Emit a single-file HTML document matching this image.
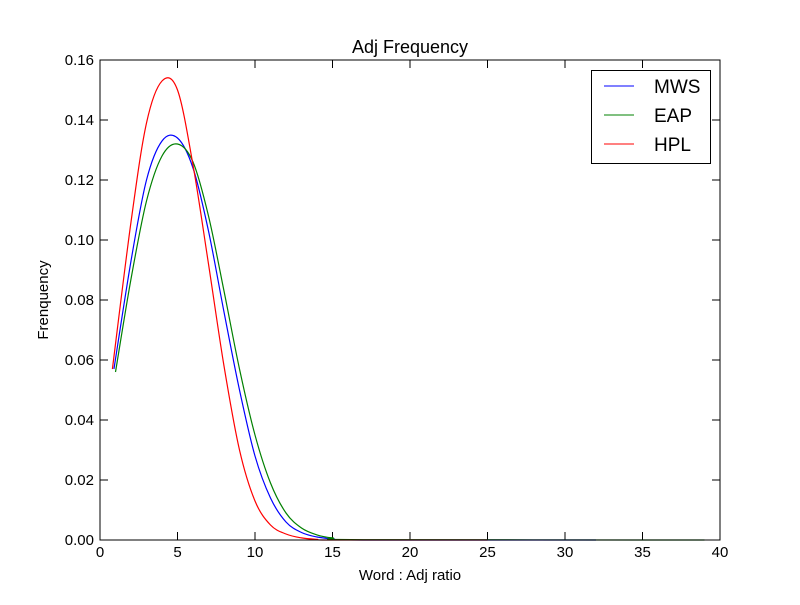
<!DOCTYPE html>
<html><head><meta charset="utf-8"><style>
body{margin:0;background:#fff}
svg text{font-family:"Liberation Sans","DejaVu Sans",sans-serif}
</style></head><body>
<svg id="chart" width="800" height="600" xmlns="http://www.w3.org/2000/svg">
<rect width="800" height="600" fill="#fff"/>
<text x="410" y="53" font-size="18" text-anchor="middle">Adj Frequency</text>
<text x="410" y="580" font-size="15" text-anchor="middle">Word : Adj ratio</text>
<text transform="translate(48,300) rotate(-90)" font-size="15" text-anchor="middle">Frenquency</text>
<g id="ticks"></g>
<g id="series"></g>
<rect x="100" y="60" width="620" height="480" fill="none" stroke="#000" stroke-width="1"/>
<g>
<rect x="591.5" y="70.5" width="119" height="93" fill="#fff" stroke="#000"/>
<line x1="604" y1="86" x2="634" y2="86" stroke="#0000ff"/>
<text x="654" y="93" font-size="19">MWS</text>
<line x1="604" y1="115" x2="634" y2="115" stroke="#008000"/>
<text x="654" y="122" font-size="19">EAP</text>
<line x1="604" y1="144" x2="634" y2="144" stroke="#ff0000"/>
<text x="654" y="151" font-size="19">HPL</text>
</g>
</svg>
<script>
const xTicks=[0,5,10,15,20,25,30,35,40];
const yTicks=[0,0.02,0.04,0.06,0.08,0.10,0.12,0.14,0.16];
const yTickLabels=["0.00","0.02","0.04","0.06","0.08","0.10","0.12","0.14","0.16"];
const mwsX=[0.9,2,3,4,5,6,7,8,9,10,11,12,13,14,15,17,32];
const mwsY=[0.057,0.093,0.120,0.133,0.134,0.124,0.103,0.076,0.050,0.028,0.014,0.006,0.0025,0.001,0.0004,0,0];
const eapX=[1,2,3,4,5,6,7,8,9,10,11,12,13,14,15,17,39];
const eapY=[0.056,0.087,0.113,0.128,0.132,0.126,0.108,0.083,0.057,0.035,0.019,0.009,0.004,0.0017,0.0007,0.0001,0];
const hplX=[0.8,2,3,4,5,6,7,8,9,10,11,12,13,14,15,25];
const hplY=[0.057,0.106,0.139,0.153,0.150,0.125,0.092,0.058,0.030,0.013,0.005,0.002,0.0007,0.0002,0,0];
const NS="http://www.w3.org/2000/svg";
const sx=v=>100+v*15.5, sy=v=>540-v*3000;
const tg=document.getElementById('ticks');
function mk(tag,attrs,parent){const e=document.createElementNS(NS,tag);for(const k in attrs)e.setAttribute(k,attrs[k]);parent.appendChild(e);return e;}
xTicks.forEach(t=>{
  const x=sx(t);
  let l=mk('line',{x1:x,y1:540,x2:x,y2:532,stroke:'#000'},tg);
  
  
  let l2=mk('line',{x1:x,y1:60,x2:x,y2:68,stroke:'#000'},tg);
  
  
  let tx=mk('text',{x:x,y:557,'font-size':15,'text-anchor':'middle'},tg);tx.textContent=t;
  
  
});
yTicks.forEach((t,i)=>{
  const y=sy(t);
  let l=mk('line',{x1:100,y1:y,x2:108,y2:y,stroke:'#000'},tg);
  
  
  let l2=mk('line',{x1:712,y1:y,x2:720,y2:y,stroke:'#000'},tg);
  
  
  let tx=mk('text',{x:94,y:y+5,'font-size':15,'text-anchor':'end'},tg);tx.textContent=yTickLabels[i];
  
  
});
const sg=document.getElementById('series');
function curve(xs,ys,color,name){
  const pts=xs.map((x,i)=>[sx(x),sy(ys[i])]);
  let d='M'+pts[0][0]+','+pts[0][1];
  for(let i=0;i<pts.length-1;i++){
    const p0=pts[i-1]||pts[i],p1=pts[i],p2=pts[i+1],p3=pts[i+2]||p2;
    const c1x=p1[0]+(p2[0]-p0[0])/6,c1y=p1[1]+(p2[1]-p0[1])/6;
    const c2x=p2[0]-(p3[0]-p1[0])/6,c2y=p2[1]-(p3[1]-p1[1])/6;
    d+=` C${c1x},${Math.min(c1y,540)} ${c2x},${Math.min(c2y,540)} ${p2[0]},${p2[1]}`;
  }
  const p=mk('path',{d:d,fill:'none',stroke:color,'stroke-width':1.2},sg);
  
  
}
curve(mwsX,mwsY,'#0000ff','mws-line');
curve(eapX,eapY,'#008000','eap-line');
curve(hplX,hplY,'#ff0000','hpl-line');
</script>
</body></html>
